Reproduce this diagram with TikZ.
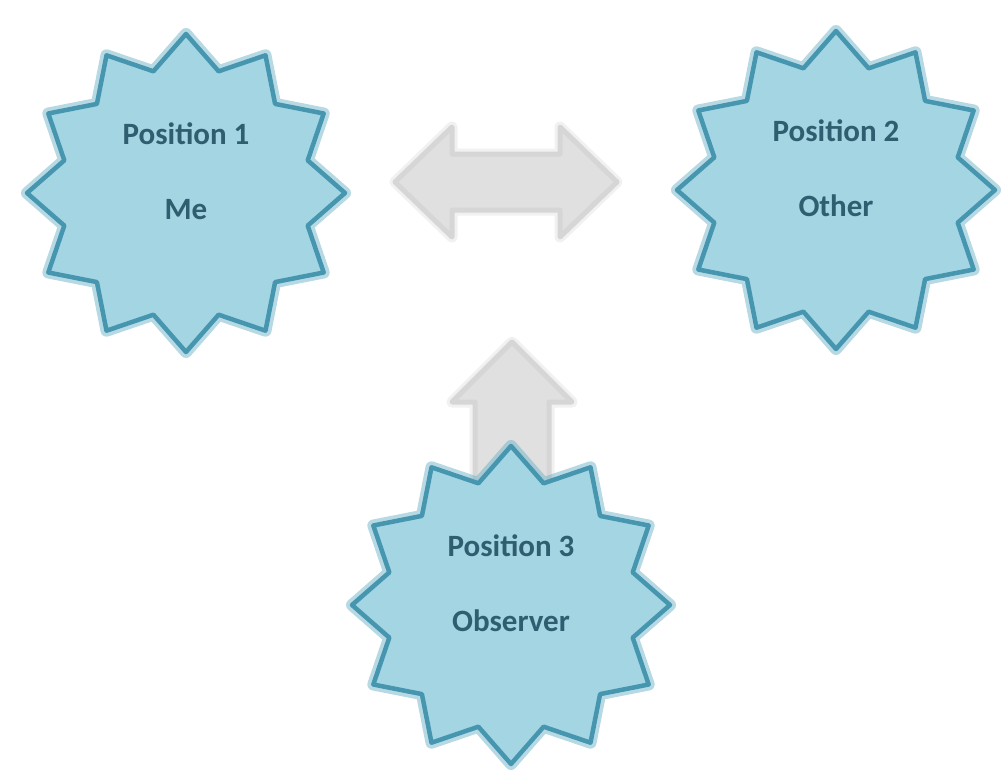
\documentclass[tikz,border=0pt]{standalone}
\usepackage{fontspec}
\setmainfont{Carlito}
\definecolor{starfill}{HTML}{A3D5E3}
\definecolor{starline}{HTML}{4796B0}
\definecolor{starglow}{HTML}{6FB4C9}
\definecolor{txt}{HTML}{2E5E6F}
\definecolor{arrfill}{HTML}{E0E0E0}
\definecolor{arrline}{HTML}{D6D6D6}
\tikzset{
  burst/.style={fill=starfill, draw=starline, line width=4.5pt, line join=round,
    preaction={draw=starglow, line width=12pt, line join=round, opacity=0.5}},
  lbl/.style={font=\bfseries\fontsize{31}{34}\selectfont, text=txt, anchor=base, inner sep=0pt},
  bigarrow/.style={fill=arrfill, draw=arrline, line width=5pt, line join=round,
    preaction={draw=arrline, line width=11pt, line join=round, opacity=0.35}}
}
\newcommand{\burstat}[2]{%
  \begin{scope}[shift={(#1,#2)}]
  \draw[burst] (90:159) \foreach \a in {0,30,...,330}{
      -- ({\a+105}:126) -- ({\a+120}:159)} -- cycle;
  \end{scope}}
\begin{document}
\begin{tikzpicture}[x=1pt,y=-1pt]
\useasboundingbox (0,0) rectangle (1003,781);
% arrows
\coordinate (dl) at (395,182);
\coordinate (dr) at (617,182);
\draw[bigarrow] (dl) -- (452,127) -- (452,154) -- (560,154) -- (560,127) -- (dr)
   -- (560,237) -- (560,210) -- (452,210) -- (452,237) -- cycle;
\coordinate (ut) at (512,342);
\draw[bigarrow] (ut) -- (572,402) -- (549,402) -- (549,500) -- (475,500) -- (475,402) -- (452,402) -- cycle;
% stars
\coordinate (s1) at (186,193);
\coordinate (s2) at (836,190);
\coordinate (s3) at (511,605);
\burstat{186}{193}
\burstat{836}{190}
\burstat{511}{605}
\node[lbl] (t1a) at ([yshift=49pt]s1) {Position 1};
\node[lbl] (t1b) at ([yshift=-26pt]s1) {Me};
\node[lbl] (t2a) at ([yshift=49pt]s2) {Position 2};
\node[lbl] (t2b) at ([yshift=-26pt]s2) {Other};
\node[lbl] (t3a) at ([yshift=49pt]s3) {Position 3};
\node[lbl] (t3b) at ([yshift=-26pt]s3) {Observer};
\end{tikzpicture}
\end{document}
